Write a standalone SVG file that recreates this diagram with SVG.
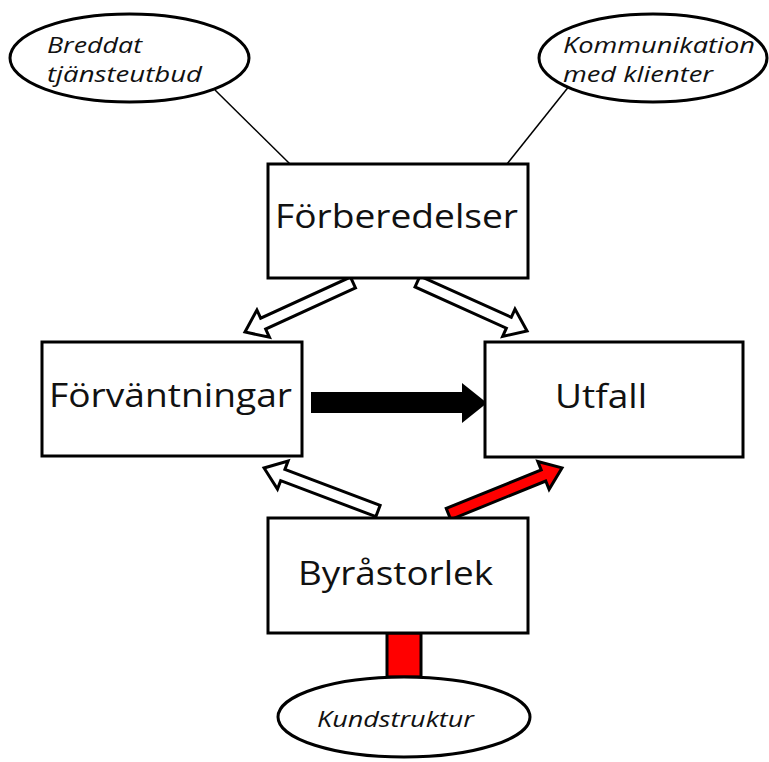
<svg xmlns="http://www.w3.org/2000/svg" width="769" height="762" viewBox="0 0 769 762">
<style>
.box{fill:#fff;stroke:#000;stroke-width:3}
.ell{fill:#fff;stroke:#000;stroke-width:3}
.t{font-family:"Open Sans","Liberation Sans",sans-serif;font-size:32px;fill:#111}
.ti{font-family:"Open Sans","Liberation Sans",sans-serif;font-size:22px;font-style:italic;fill:#111}
.line{stroke:#000;stroke-width:1.5;fill:none}
.hollow{fill:#fff;stroke:#000;stroke-width:3;stroke-linejoin:miter}
.red{fill:#f00;stroke:#000;stroke-width:3;stroke-linejoin:miter}
</style>
<g id="connectors">
<line class="line" x1="215" y1="90" x2="290" y2="164"/>
<line class="line" x1="570" y1="85" x2="507" y2="164"/>
<g transform="translate(353,282.5) rotate(155.4)"><polygon class="hollow" points="0,-6 98.8,-6 98.8,-15 118.8,0 98.8,15 98.8,6 0,6"/></g>
<g transform="translate(417.5,281.5) rotate(24.3)"><polygon class="hollow" points="0,-6 100.2,-6 100.2,-15 120.2,0 100.2,15 100.2,6 0,6"/></g>
<g transform="translate(378,511) rotate(-159.3)"><polygon class="hollow" points="0,-6 101.8,-6 101.8,-15 121.8,0 101.8,15 101.8,6 0,6"/></g>
<g transform="translate(448.5,514) rotate(-22.1)"><polygon class="red" points="0,-6 102.5,-6 102.5,-15 122.5,0 102.5,15 102.5,6 0,6"/></g>
<polygon fill="#000" points="311,392 462,392 462,383 487,403 462,423 462,413 311,413"/>
<rect class="red" x="387" y="633" width="34" height="44"/>
</g>
<g id="n-breddat">
<ellipse class="ell" cx="129.5" cy="58" rx="119.5" ry="44"/>
<text class="ti" x="47" y="53" textLength="95" lengthAdjust="spacingAndGlyphs">Breddat</text>
<text class="ti" x="47" y="82" textLength="155" lengthAdjust="spacingAndGlyphs">tjänsteutbud</text>
</g>
<g id="n-kommunikation">
<ellipse class="ell" cx="653" cy="58" rx="114" ry="44"/>
<text class="ti" x="563" y="53" textLength="192" lengthAdjust="spacingAndGlyphs">Kommunikation</text>
<text class="ti" x="563" y="82" textLength="150" lengthAdjust="spacingAndGlyphs">med klienter</text>
</g>
<g id="n-forberedelser">
<rect class="box" x="268" y="164" width="260" height="114"/>
<text class="t" x="275" y="228" textLength="243" lengthAdjust="spacingAndGlyphs">Förberedelser</text>
</g>
<g id="n-forvantningar">
<rect class="box" x="42" y="342" width="260" height="114"/>
<text class="t" x="49" y="407" textLength="243" lengthAdjust="spacingAndGlyphs">Förväntningar</text>
</g>
<g id="n-utfall">
<rect class="box" x="485" y="342" width="258" height="115"/>
<text class="t" x="555" y="408" textLength="92" lengthAdjust="spacingAndGlyphs">Utfall</text>
</g>
<g id="n-byrastorlek">
<rect class="box" x="268" y="518" width="260" height="115"/>
<text class="t" x="298" y="585" textLength="195" lengthAdjust="spacingAndGlyphs">Byråstorlek</text>
</g>
<g id="n-kundstruktur">
<ellipse class="ell" cx="404" cy="717" rx="126" ry="40"/>
<text class="ti" x="317" y="727" textLength="157" lengthAdjust="spacingAndGlyphs">Kundstruktur</text>
</g>
</svg>
